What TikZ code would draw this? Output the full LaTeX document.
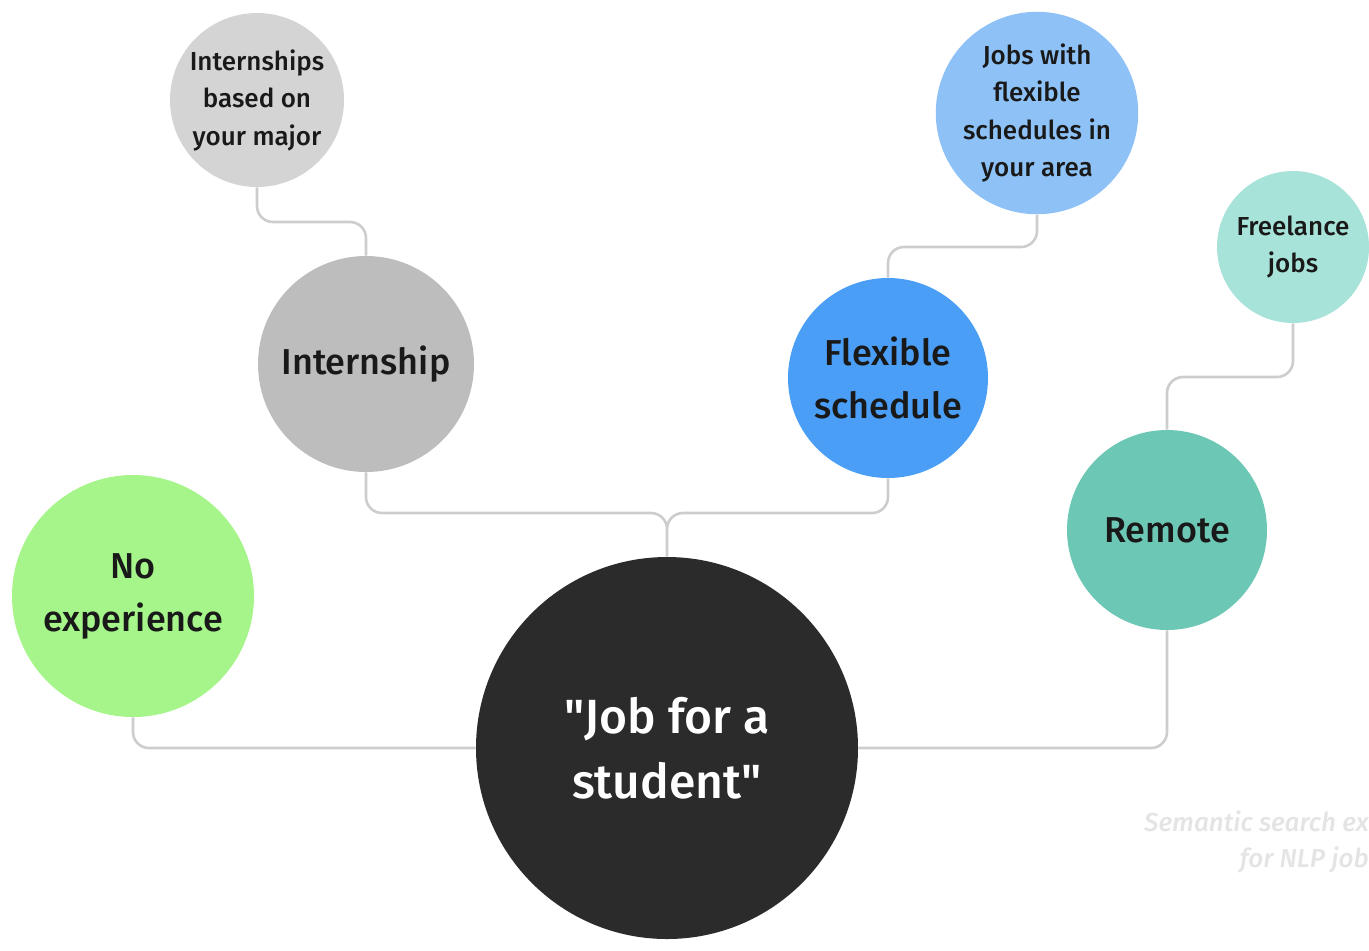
\documentclass[tikz,border=0pt]{standalone}
\usepackage{fontspec}
\setmainfont{Fira Sans}[UprightFont=* Medium, ItalicFont=* Medium Italic]
\usepackage{tikz}
\definecolor{link_gray}{RGB}{205,205,205}
\definecolor{node_lgray}{RGB}{212,212,212}
\definecolor{node_gray}{RGB}{189,189,189}
\definecolor{node_green}{RGB}{165,245,138}
\definecolor{node_dark}{RGB}{43,43,43}
\definecolor{node_blue}{RGB}{74,158,245}
\definecolor{node_lblue}{RGB}{142,194,247}
\definecolor{node_teal}{RGB}{108,199,181}
\definecolor{node_lteal}{RGB}{168,227,217}
\definecolor{mark_gray}{RGB}{228,228,228}

\begin{document}
\begin{tikzpicture}[x=0.5pt,y=-0.5pt]
    \tikzstyle{bubble}=[circle, draw=none, inner sep=0pt, align=center, text=black!90]
    \tikzstyle{small}=[style=bubble, font=\fontsize{13}{18.75}\selectfont]
    \tikzstyle{mid}=[style=bubble, font=\fontsize{18}{26.5}\selectfont]
    \tikzstyle{big}=[style=bubble, font=\fontsize{24}{32.5}\selectfont, text=white]
    \tikzstyle{link}=[draw=link_gray, line width=1.3pt, rounded corners=8pt]

    \useasboundingbox (0,0) rectangle (1369,950);

    % outer ring of ideas
    \node[small, fill=node_lgray, minimum size=87pt]  (ib) at (257,100)  {Internships\\based on\\your major};
    \node[small, fill=node_lblue, minimum size=101pt] (jf) at (1037,113) {Jobs with\\flexible\\schedules in\\your area};
    \node[small, fill=node_lteal, minimum size=76pt]  (fl) at (1293,247) {Freelance\\jobs};

    % first ring
    \node[mid, fill=node_gray,  minimum size=108pt] (in) at (366,364)  {Internship};
    \node[mid, fill=node_blue,  minimum size=100pt] (fs) at (888,378)  {Flexible\\schedule};
    \node[mid, fill=node_green, minimum size=121pt] (ne) at (133,596)  {No\\experience};
    \node[mid, fill=node_teal,  minimum size=100pt] (re) at (1167,530) {Remote};

    % the query
    \node[big, fill=node_dark, minimum size=191pt] (js) at (667,748) {\textquotedbl Job for a\\student\textquotedbl};

    \path[link]
     (ib.south) -- (ib.south |- 0,222) -| (in.north)
     (jf.south) -- (jf.south |- 0,247) -| (fs.north)
     (fl.south) -- (fl.south |- 0,377) -| (re.north)
     (in.south) |- (667,513) -- (js.north)
     (fs.south) |- (667,513) -- (js.north)
     (ne.south) |- (js.west)
     (js.east) -| (re.south)
     ;

    \node[anchor=east, align=right, text=mark_gray, inner sep=0pt,
          font=\fontsize{13}{18}\itshape\selectfont] (sm) at (1369,842)
          {Semantic search ex\\for NLP job};
\end{tikzpicture}
\end{document}
